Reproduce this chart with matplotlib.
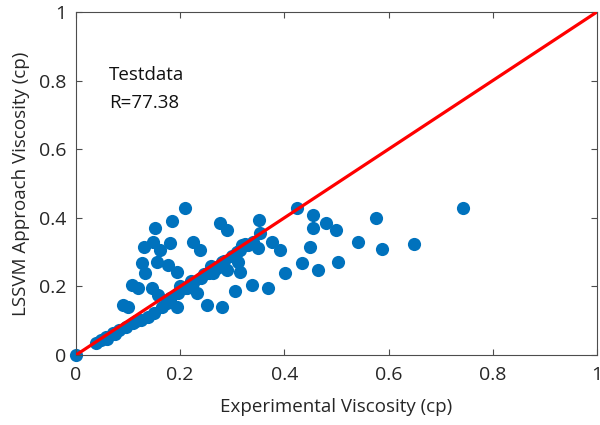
import matplotlib.pyplot as plt
import numpy as np

plt.rcParams['font.family'] = ['Open Sans', 'DejaVu Sans']

# experimental vs. predicted viscosity (cp), test set
exp_visc = [
    0.0, 0.038, 0.048, 0.058, 0.071, 0.083, 0.096, 0.109, 0.125, 0.138, 0.15,
    0.165, 0.18, 0.195, 0.21, 0.225, 0.24, 0.255, 0.27, 0.285, 0.30, 0.315, 0.33,
    0.06, 0.075, 0.115, 0.2, 0.22, 0.245, 0.26, 0.28, 0.31, 0.325, 0.34,
    0.09, 0.10, 0.107, 0.119, 0.146, 0.157, 0.175, 0.18, 0.194,
    0.209, 0.184, 0.152, 0.148, 0.131, 0.161, 0.18, 0.225, 0.238,
    0.127, 0.155, 0.132, 0.177, 0.194,
    0.213, 0.232, 0.251, 0.28, 0.305,
    0.276, 0.29, 0.351, 0.353, 0.376, 0.392, 0.35, 0.319,
    0.311, 0.29, 0.315, 0.263, 0.338, 0.369, 0.401,
    0.424, 0.455, 0.455, 0.48, 0.50, 0.449, 0.503, 0.434, 0.464,
    0.743, 0.576, 0.541, 0.587, 0.649,
]
lssvm_visc = [
    0.0, 0.035, 0.044, 0.053, 0.064, 0.073, 0.082, 0.093, 0.102, 0.111, 0.122,
    0.14, 0.165, 0.18, 0.195, 0.21, 0.225, 0.24, 0.255, 0.275, 0.29, 0.305, 0.32,
    0.048, 0.062, 0.1, 0.2, 0.215, 0.235, 0.26, 0.27, 0.3, 0.325, 0.33,
    0.146, 0.14, 0.204, 0.195, 0.195, 0.175, 0.152, 0.16, 0.14,
    0.429, 0.39, 0.37, 0.33, 0.315, 0.306, 0.327, 0.33, 0.306,
    0.268, 0.27, 0.24, 0.262, 0.242,
    0.195, 0.18, 0.146, 0.14, 0.187,
    0.385, 0.364, 0.394, 0.356, 0.33, 0.306, 0.312, 0.321,
    0.271, 0.248, 0.242, 0.239, 0.204, 0.195, 0.239,
    0.428, 0.408, 0.37, 0.385, 0.364, 0.315, 0.271, 0.268, 0.248,
    0.43, 0.40, 0.33, 0.31, 0.324,
]
diag = [0, 1]
ticks = [0, 0.2, 0.4, 0.6, 0.8, 1]
tick_labels = ['0', '0.2', '0.4', '0.6', '0.8', '1']

fig = plt.figure(figsize=(6, 4.25), dpi=100)
ax = fig.add_axes([0.1267, 0.1647, 0.868, 0.807])

ax.scatter(exp_visc, lssvm_visc, s=90, color='#0072BD', linewidths=0,
           zorder=2, clip_on=False)
ax.plot(diag, diag, color='#FF0000', lw=2.3, zorder=3)

ax.set_xlim(0, 1)
ax.set_ylim(0, 1)
ax.set_xticks(ticks)
ax.set_xticklabels(tick_labels)
ax.set_yticks(ticks)
ax.set_yticklabels(tick_labels)
ax.tick_params(direction='in', top=True, right=True, length=4, width=0.8,
               color='#4d4d4d', labelsize=14, labelcolor='#262626')
ax.tick_params(axis='x', pad=8)
ax.tick_params(axis='y', pad=7)
for sp in ax.spines.values():
    sp.set_color('#4d4d4d')
    sp.set_linewidth(0.8)

ax.set_xlabel('Experimental Viscosity (cp)', fontsize=13.5, color='#262626', labelpad=10)
ax.set_ylabel('LSSVM Approach Viscosity (cp)', fontsize=13.5, color='#262626', labelpad=6)

ax.text(0.063, 0.815, 'Testdata', fontsize=13.5, color='#111111', va='center')
ax.text(0.063, 0.735, 'R=77.38', fontsize=13.5, color='#111111', va='center')

fig.savefig('out.png', dpi=100)
